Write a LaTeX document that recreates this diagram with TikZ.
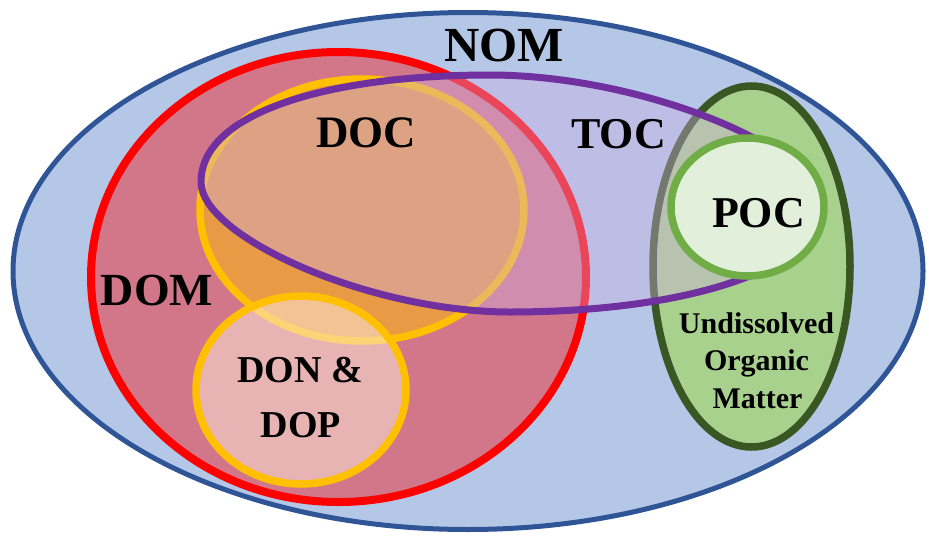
\documentclass[tikz,border=0pt]{standalone}
\usepackage{fontspec}
\setmainfont{Liberation Serif}
\definecolor{nomblue}{RGB}{180,199,231}
\definecolor{darkblue}{HTML}{2F5597}
\definecolor{gold}{HTML}{FFC000}
\definecolor{peach}{RGB}{251,229,214}
\definecolor{leaf}{HTML}{A9D18E}
\definecolor{darkgreen}{HTML}{385723}
\definecolor{lilac}{RGB}{205,174,226}
\definecolor{tocpurple}{HTML}{7030A0}
\definecolor{pocgreen}{HTML}{70AD47}
\definecolor{pocfill}{HTML}{E2EFDA}
\tikzset{setname/.style={anchor=base, inner sep=0pt,
    font=\bfseries\fontsize{#1}{#1}\selectfont}}

\begin{document}
\begin{tikzpicture}[x=1pt,y=-1pt]
  \useasboundingbox (0,0) rectangle (929,536);

  %% NOM
  \draw[fill=nomblue, draw=darkblue, line width=5pt]
  (468,271) ellipse [x radius=455, y radius=258.5];
  %% DOM
  \draw[fill=red, fill opacity=0.4, draw=red, line width=8pt]
  (338.5,277) ellipse [x radius=247.5, y radius=225];
  %% DOC
  \draw[fill=gold, fill opacity=0.5, draw=gold, line width=7.5pt]
  (362,210) ellipse [x radius=162, y radius=131];
  %% DON & DOP
  \draw[fill=peach, fill opacity=0.55, draw=gold, line width=7.5pt]
  (301,390) ellipse [x radius=105, y radius=94];
  %% undissolved
  \draw[fill=leaf, draw=darkgreen, line width=7.5pt]
  (751.5,266.5) ellipse [x radius=98.5, y radius=180.5];
  %% TOC
  \draw[fill=lilac, fill opacity=0.4, draw=tocpurple, line width=7pt]
  (201,182) .. controls (201,112) and (330,75) .. (490,75)
  .. controls (640,75) and (822,148) .. (822,208)
  .. controls (822,263) and (700,312) .. (510,312)
  .. controls (370,312) and (201,237) .. (201,182) -- cycle;
  %% POC
  \draw[fill=pocfill, draw=pocgreen, line width=7.5pt]
  (747.5,207) ellipse [x radius=76.5, y radius=69];

  \node[setname=49] (nom) at (504,61) {NOM};
  \node[setname=45] (doc) at (366,147) {DOC};
  \node[setname=44] (toc) at (618.5,148) {TOC};
  \node[setname=46] (dom) at (157,305) {DOM};
  \node[setname=44] (poc) at (758.5,227) {POC};
  \node[setname=38] (don) at (300,382) {DON \&};
  \node[setname=38] (dop) at (301,437) {DOP};
  \node[setname=30] (uom1) at (756.5,333) {Undissolved};
  \node[setname=30] (uom2) at (756.5,370) {Organic};
  \node[setname=30] (uom3) at (757.5,408) {Matter};
\end{tikzpicture}
\end{document}
